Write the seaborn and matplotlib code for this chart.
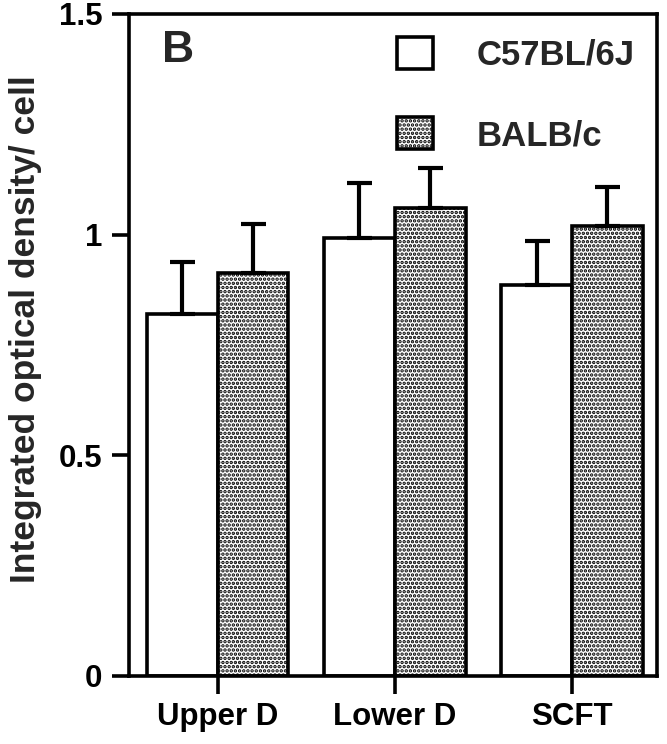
import numpy as np
import pandas as pd
import matplotlib
matplotlib.use("Agg")
import matplotlib.pyplot as plt
import seaborn as sns
from matplotlib.patches import Patch

# ---- data ----
regions = ["Upper D", "Lower D", "SCFT"]
strains = ["C57BL/6J", "BALB/c"]
c57_values = [0.821, 0.993, 0.885]
c57_errors = [0.118, 0.125, 0.101]
balb_values = [0.914, 1.061, 1.020]
balb_errors = [0.111, 0.091, 0.089]
y_ticks = [0, 0.5, 1, 1.5]
y_tick_labels = ["0", "0.5", "1", "1.5"]
y_label = "Integrated optical density/ cell"
panel_letter = "B"

df = pd.DataFrame({
    "region": regions * 2,
    "strain": [strains[0]] * 3 + [strains[1]] * 3,
    "value": c57_values + balb_values,
})

sns.set_style("ticks")
plt.rcParams["font.family"] = ["Liberation Sans", "DejaVu Sans"]
plt.rcParams["font.weight"] = "bold"
plt.rcParams["hatch.linewidth"] = 1.7

LW = 2.6

fig = plt.figure(figsize=(6.67, 7.44), dpi=100)
ax = fig.add_axes([0.1934, 0.0914, 0.7916, 0.8898])

sns.barplot(data=df, x="region", y="value", hue="strain", order=regions,
            hue_order=strains, palette=["white", "white"], edgecolor="black",
            linewidth=LW, width=0.8, errorbar=None, legend=False, saturation=1,
            ax=ax)

for bar in ax.containers[1]:
    bar.set_hatch("....")

for container, vals, errs in zip(ax.containers, [c57_values, balb_values],
                                 [c57_errors, balb_errors]):
    xs = [b.get_x() + b.get_width() / 2 for b in container]
    ax.errorbar(xs, vals, yerr=[np.zeros(len(errs)), errs], fmt="none",
                ecolor="black", elinewidth=3.0, capsize=9, capthick=3.0,
                zorder=1)

ax.set_xlim(-0.5, 2.48)
ax.set_ylim(0, 1.5)
ax.set_yticks(y_ticks)
ax.set_yticklabels(y_tick_labels)
ax.set_xlabel("")
ax.set_ylabel(y_label, fontsize=25.5, fontweight="bold")
ax.yaxis.set_label_coords(-0.165, 0.524)

for sp in ax.spines.values():
    sp.set_visible(True)
    sp.set_linewidth(LW)
    sp.set_color("black")

ax.tick_params(axis="y", direction="out", length=12, width=LW, pad=7,
               labelsize=22.5, colors="black")
ax.tick_params(axis="x", direction="out", length=13, width=LW, pad=6,
               labelsize=22.5, colors="black")
for lab in ax.get_xticklabels() + ax.get_yticklabels():
    lab.set_fontweight("bold")

ax.text(0.0625, 0.9275, panel_letter, transform=ax.transAxes, fontsize=32,
        fontweight="bold", ha="left", va="baseline")

handles = [
    Patch(facecolor="white", edgecolor="black", linewidth=LW, label=strains[0]),
    Patch(facecolor="white", edgecolor="black", linewidth=LW, hatch="....",
          label=strains[1]),
]
leg = fig.legend(handles=handles, loc="upper left",
                 bbox_to_anchor=(397 / 667, (744 - 37) / 744),
                 frameon=False, borderpad=0, borderaxespad=0,
                 handlelength=1.05, handleheight=1.05, handletextpad=1.25,
                 labelspacing=1.3, prop={"size": 25, "weight": "bold"})

fig.savefig("out.png", dpi=100)
